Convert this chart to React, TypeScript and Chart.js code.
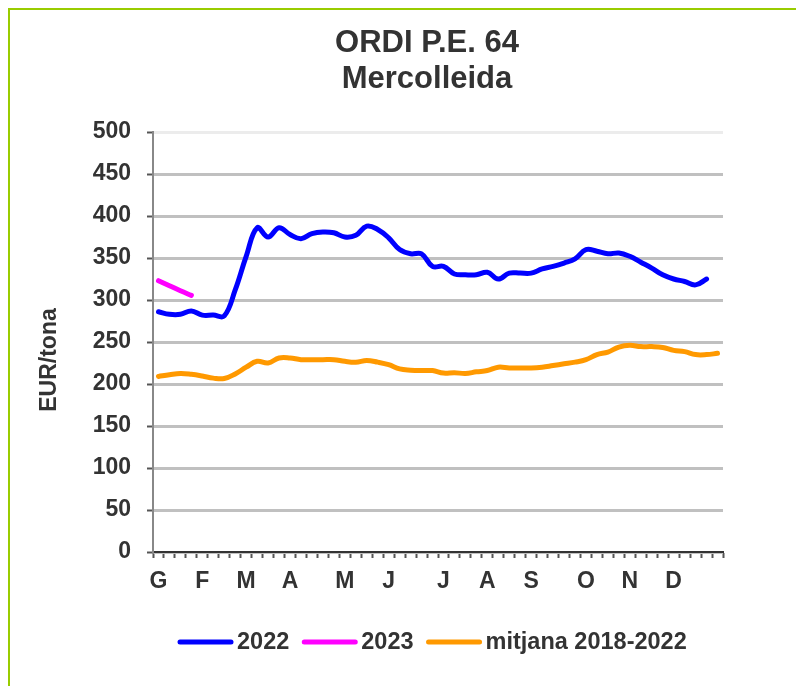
import React, { useEffect, useRef } from "react";
import { Chart, registerables } from "chart.js";

Chart.register(...registerables);

const weekLabels: string[] = [
  "G", "", "", "", "F", "", "", "", "M", "", "", "", "A", "", "", "", "", "M", "", "", "", "J", "", "", "", "",
  "J", "", "", "", "A", "", "", "", "S", "", "", "", "", "O", "", "", "", "N", "", "", "", "D", "", "", "", "",
];

const series2022: (number | null)[] = [
  286, 283, 283, 287, 282, 282, 281, 312, 352, 386, 375, 386, 378, 373, 379, 381, 380, 375, 377, 388, 384, 374,
  360, 355, 355, 340, 340, 331, 330, 330, 333, 325, 332, 332, 332, 337, 340, 344, 349, 360, 358, 355, 356, 352,
  345, 338, 330, 325, 322, 318, 325, null,
];

const series2023: (number | null)[] = [323, 317, 311, 305.5];

const seriesMitjana: number[] = [
  209, 211, 212.5, 211.5, 209.5, 207, 206.5, 212, 220, 227, 225, 231, 231, 229, 229, 229, 229, 227, 226, 228, 226,
  223, 218, 216.5, 216, 216, 213, 213.5, 212.5, 214.5, 216, 220, 219, 219, 219, 220, 222, 224, 226, 229, 235, 238,
  244, 246, 244.5, 244.5, 243.5, 240, 238.5, 235, 235, 236.5,
];

const titleLines = ["ORDI P.E. 64", "Mercolleida"];
const yTitle = "EUR/tona";
const legendNames = ["2022", "2023", "mitjana 2018-2022"];
const seriesColors = ["#0000ff", "#ff00ff", "#ff9900"];

const FONT = "'Liberation Sans', Arial, sans-serif";
const TEXT = "#333333";

const overlay = {
  id: "overlay",
  afterDraw(chart: any) {
    const ctx = chart.ctx as CanvasRenderingContext2D;
    ctx.save();
    ctx.fillStyle = TEXT;
    ctx.font = `bold 31px ${FONT}`;
    ctx.textAlign = "center";
    ctx.textBaseline = "middle";
    ctx.fillText(titleLines[0], 427, 43);
    ctx.fillText(titleLines[1], 427, 79);
    ctx.save();
    ctx.translate(50, 360);
    ctx.rotate(-Math.PI / 2);
    ctx.font = `bold 23px ${FONT}`;
    ctx.fillText(yTitle, 0, 0);
    ctx.restore();
    ctx.font = `bold 23.5px ${FONT}`;
    const lineLen = 55;
    const gapAfterLine = 4;
    const gapBetween = 13;
    const ds = chart.data.datasets;
    let x = 178;
    const y = 642;
    ctx.textAlign = "left";
    ds.forEach((d: any) => {
      ctx.strokeStyle = d.borderColor;
      ctx.lineWidth = 5;
      ctx.lineCap = "round";
      ctx.beginPath();
      ctx.moveTo(x + 2, y);
      ctx.lineTo(x + lineLen - 2, y);
      ctx.stroke();
      x += lineLen + gapAfterLine;
      ctx.fillStyle = TEXT;
      ctx.fillText(d.label, x, y + 1);
      x += ctx.measureText(d.label).width + gapBetween;
    });
    ctx.restore();
  },
};

export default function App() {
  const ref = useRef<HTMLCanvasElement | null>(null);
  useEffect(() => {
    if (!ref.current) return;
    const mk = (i: number, data: (number | null)[], order: number) => ({
      label: legendNames[i],
      data,
      order,
      borderColor: seriesColors[i],
      backgroundColor: seriesColors[i],
      borderWidth: 5,
      pointRadius: 0,
      tension: 0.4,
      fill: false,
      spanGaps: false,
      borderCapStyle: "round" as const,
      borderJoinStyle: "round" as const,
    });
    const chart = new Chart(ref.current, {
      type: "line",
      data: {
        labels: weekLabels,
        datasets: [mk(0, series2022, 1), mk(1, series2023, 0), mk(2, seriesMitjana, 2)],
      },
      options: {
        responsive: false,
        animation: false,
        devicePixelRatio: 1,
        layout: { padding: { left: 0, right: 73, top: 132, bottom: 84 } },
        plugins: { legend: { display: false }, title: { display: false }, tooltip: { enabled: false } },
        scales: {
          x: {
            type: "category",
            offset: true,
            afterFit: (s: any) => {
              s.height = 50;
            },
            grid: {
              offset: true,
              drawOnChartArea: false,
              drawTicks: true,
              tickLength: 6,
              tickColor: "#555555",
              tickWidth: 2,
            },
            border: { display: true, color: "#333333", width: 2 },
            ticks: {
              autoSkip: false,
              maxRotation: 0,
              minRotation: 0,
              padding: 10,
              color: TEXT,
              font: { family: FONT, size: 23, weight: "bold" },
            },
          },
          y: {
            min: 0,
            max: 500,
            afterFit: (s: any) => {
              s.width = 153;
            },
            grid: {
              color: (c: any) => (c.tick && c.tick.value === 500 ? "#ececec" : "#c0c0c0"),
              lineWidth: 3,
              tickLength: 6,
              tickColor: "#555555",
              tickWidth: 2,
            },
            border: { display: true, color: "#888888", width: 2 },
            ticks: {
              stepSize: 50,
              padding: 16,
              color: TEXT,
              font: { family: FONT, size: 23, weight: "bold" },
            },
          },
        },
      },
      plugins: [overlay],
    });
    return () => chart.destroy();
  }, []);

  return (
    <div style={{ position: "absolute", left: 0, top: 0, width: 796, height: 686, overflow: "hidden", background: "#fff" }}>
      <div
        style={{
          position: "absolute",
          left: 8,
          top: 8,
          width: 820,
          height: 720,
          border: "2px solid #99cc00",
          boxSizing: "border-box",
        }}
      />
      <canvas ref={ref} width={796} height={686} style={{ position: "absolute", left: 0, top: 0 }} />
    </div>
  );
}
